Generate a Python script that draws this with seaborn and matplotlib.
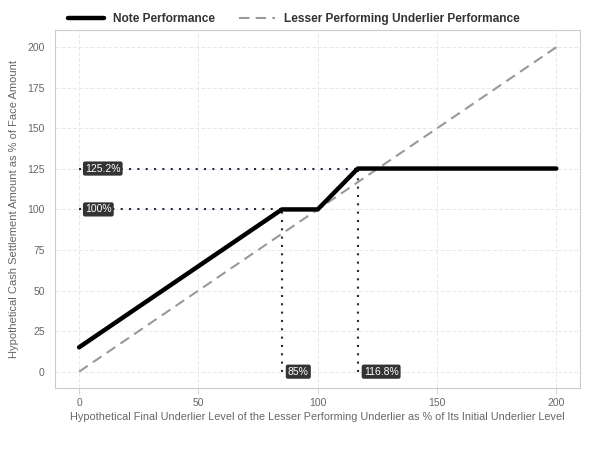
import matplotlib
matplotlib.use("Agg")
import matplotlib.pyplot as plt
import seaborn as sns
import pandas as pd
from matplotlib.lines import Line2D

note_x = [0, 85, 100, 116.8, 200]
note_y = [15, 100, 100, 125.2, 125.2]
und_x = [0, 200]
und_y = [0, 200]
cap_x, cap_y = 116.8, 125.2
thr_x, thr_y = 85, 100
x_ticks = [0, 50, 100, 150, 200]
y_ticks = [0, 25, 50, 75, 100, 125, 150, 175, 200]

sns.set_theme(style="whitegrid")
plt.rcParams['font.family'] = ['Liberation Sans', 'DejaVu Sans']

fig = plt.figure(figsize=(6, 4.5), dpi=100)
ax = fig.add_axes([0.092, 0.138, 0.875, 0.795])

note_df = pd.DataFrame({"x": note_x, "y": note_y})
und_df = pd.DataFrame({"x": und_x, "y": und_y})

sns.lineplot(data=und_df, x="x", y="y", ax=ax, color="#999999", lw=1.5,
             linestyle=(0, (5, 3)), sort=False, zorder=3)
sns.lineplot(data=note_df, x="x", y="y", ax=ax, color="black", lw=3.2,
             sort=False, zorder=4)

dot_color = "#1f2a44"
ax.plot([0, cap_x], [cap_y, cap_y], color=dot_color, lw=1.5, ls=(0, (1, 3)), zorder=2)
ax.plot([0, thr_x], [thr_y, thr_y], color=dot_color, lw=1.5, ls=(0, (1, 3)), zorder=2)
ax.plot([thr_x, thr_x], [0, thr_y], color=dot_color, lw=1.5, ls=(0, (1, 3)), zorder=2)
ax.plot([cap_x, cap_x], [0, cap_y], color=dot_color, lw=1.5, ls=(0, (1, 3)), zorder=2)

bbox = dict(boxstyle="round,pad=0.2,rounding_size=0.2", fc="#333333", ec="none")
ax.text(2.5, cap_y, f"{cap_y}%", color="white", fontsize=7.5, va="center", ha="left", bbox=bbox, zorder=5)
ax.text(2.5, thr_y, f"{thr_y}%", color="white", fontsize=7.5, va="center", ha="left", bbox=bbox, zorder=5)
ax.text(thr_x + 2.5, 0, f"{thr_x}%", color="white", fontsize=7.5, va="center", ha="left", bbox=bbox, zorder=5)
ax.text(cap_x + 2.5, 0, f"{cap_x}%", color="white", fontsize=7.5, va="center", ha="left", bbox=bbox, zorder=5)

ax.set_xlim(-10, 210)
ax.set_ylim(-10, 210.5)
ax.set_xticks(x_ticks)
ax.set_yticks(y_ticks)
ax.grid(True, color="#e8e8e8", lw=0.7, ls=(0, (4, 2)))
for s in ax.spines.values():
    s.set_color("#cccccc")
    s.set_linewidth(0.8)
ax.tick_params(axis="both", colors="#cccccc", labelcolor="#666666", labelsize=7.5,
               length=4, width=0.6, direction="out", bottom=True, left=False)
ax.set_xlabel("Hypothetical Final Underlier Level of the Lesser Performing Underlier as % of Its Initial Underlier Level",
              fontsize=7.85, color="#666666", labelpad=3)
ax.set_ylabel("Hypothetical Cash Settlement Amount as % of Face Amount",
              fontsize=8, color="#666666", labelpad=6)

handles = [Line2D([0], [0], color="black", lw=3.2),
           Line2D([0], [0], color="#999999", lw=1.5, ls=(0, (5, 3)))]
leg = fig.legend(handles, ["Note Performance", "Lesser Performing Underlier Performance"],
                 loc="center", bbox_to_anchor=(0.49, 0.957), ncol=2, frameon=False,
                 prop={"weight": "bold", "size": 8.6}, handlelength=3.0, columnspacing=2.0,
                 handletextpad=0.8)
for t in leg.get_texts():
    t.set_color("#333333")

fig.savefig("out.png", dpi=100)
